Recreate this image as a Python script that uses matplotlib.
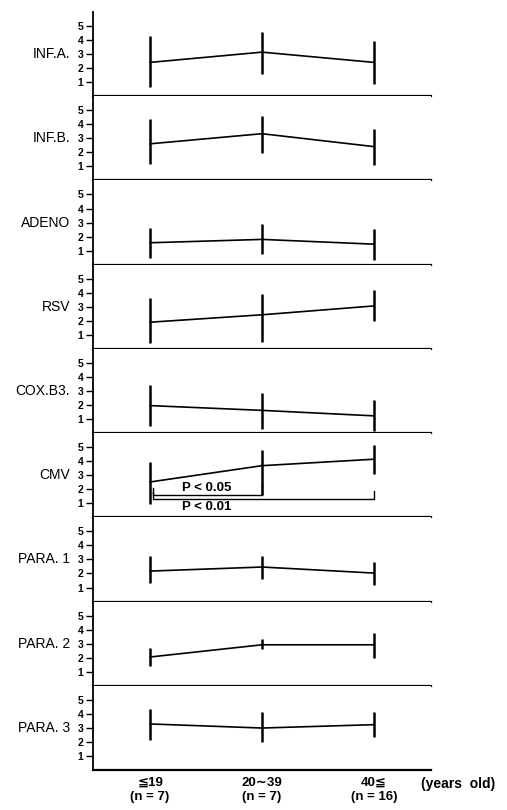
import numpy as np
import matplotlib.pyplot as plt
from matplotlib import transforms

# Groups (age classes) and panel names
groups = ["≦19\n(n = 7)", "20∼39\n(n = 7)", "40≦\n(n = 16)"]
viruses = ["INF.A.", "INF.B.", "ADENO", "RSV", "COX.B3.", "CMV",
           "PARA. 1", "PARA. 2", "PARA. 3"]

# Mean titres and error bar ends
means = [
    [2.41, 3.14, 2.41],
    [2.61, 3.33, 2.41],
    [1.56, 1.80, 1.46],
    [1.90, 2.43, 3.06],
    [1.96, 1.62, 1.23],
    [2.52, 3.68, 4.14],
    [2.17, 2.46, 2.03],
    [2.05, 2.92, 2.92],
    [3.28, 2.99, 3.23],
]
upper = [
    [4.30, 4.59, 3.91],
    [4.35, 4.59, 3.67],
    [2.62, 2.91, 2.52],
    [3.64, 3.93, 4.17],
    [3.46, 2.88, 2.34],
    [3.97, 4.77, 5.18],
    [3.28, 3.28, 2.85],
    [2.72, 3.36, 3.79],
    [4.35, 4.15, 4.15],
]
lower = [
    [0.67, 1.59, 0.87],
    [1.14, 1.98, 1.09],
    [0.45, 0.74, 0.30],
    [0.45, 0.49, 1.99],
    [0.51, 0.31, 0.17],
    [0.96, 1.56, 3.08],
    [1.35, 1.59, 1.16],
    [1.42, 2.63, 2.00],
    [2.12, 1.98, 2.36],
]

# significance brackets in the CMV panel
sig_panel = "CMV"
sig_labels = ["P < 0.05", "P < 0.01"]
sig_right = [2, 3]
sig_level = [1.61, 1.29]
sig_top = [2.28, 1.87]

plt.rcParams['font.family'] = ['Liberation Sans', 'DejaVu Sans']

x = np.arange(1, len(groups) + 1)

fig = plt.figure(figsize=(5.07, 8.10), dpi=100)
axes = fig.subplots(len(viruses), 1, sharex=True, gridspec_kw=dict(hspace=0))
fig.subplots_adjust(left=93 / 507, right=431 / 507, top=1 - 12 / 810, bottom=1 - 770 / 810)

for i, ax in enumerate(axes):
    ax.plot(x, means[i], color='black', lw=1.2, zorder=3)
    ax.vlines(x, lower[i], upper[i], color='black', lw=1.8, zorder=3)
    ax.set_ylim(0, 6)
    ax.set_xlim(0.49, 3.51)
    ax.set_yticks([1, 2, 3, 4, 5])
    ax.tick_params(axis='y', length=5, width=1, pad=2, labelsize=7.5)
    for lab in ax.get_yticklabels():
        lab.set_fontweight('bold')
    ax.tick_params(axis='x', length=0)
    ax.spines['top'].set_visible(False)
    ax.spines['right'].set_visible(False)
    ax.spines['bottom'].set_linewidth(1.6)
    ax.spines['left'].set_linewidth(1.3)
    trans = transforms.blended_transform_factory(ax.transAxes, ax.transData)
    ax.text(-0.068, 3, viruses[i], transform=trans, ha='right', va='center',
            fontsize=10)

    if viruses[i] == sig_panel:
        for lab, r, lev, top in zip(sig_labels, sig_right, sig_level, sig_top):
            xl = x[0] + 0.03
            ax.plot([xl, xl, x[r - 1], x[r - 1]], [lev + 0.5, lev, lev, top],
                    color='black', lw=1.0, zorder=2)
        ax.text(1.51, sig_level[0] + 0.03, sig_labels[0], ha='center', va='bottom',
                fontsize=9.5, fontweight='bold')
        ax.text(1.51, sig_level[1] - 0.12, sig_labels[1], ha='center', va='top',
                fontsize=9.5, fontweight='bold')

last = axes[-1]
last.set_xticks(x)
last.set_xticklabels(groups, fontsize=9.5, fontweight='bold', linespacing=1.25)
last.tick_params(axis='x', pad=5)
last.text(3.75, -0.165, "(years  old)", transform=transforms.blended_transform_factory(
    last.transData, last.transAxes), ha='center', va='center', fontsize=10,
    fontweight='bold')

fig.savefig("out.png", dpi=100)
